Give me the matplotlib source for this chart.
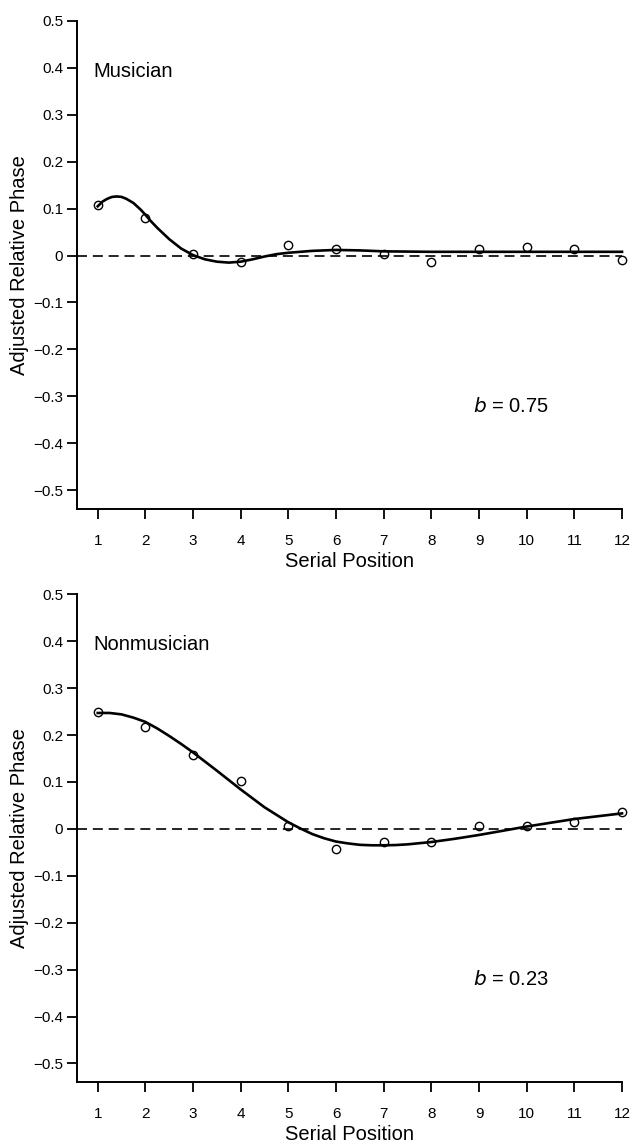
import matplotlib
matplotlib.use("Agg")
import matplotlib.pyplot as plt

# Serial positions and observed (adjusted relative phase) values
positions = [1, 2, 3, 4, 5, 6, 7, 8, 9, 10, 11, 12]
musician = [0.108, 0.080, 0.004, -0.014, 0.023, 0.013, 0.004, -0.013, 0.013, 0.018, 0.013, -0.009]
nonmusician = [0.250, 0.218, 0.158, 0.103, 0.006, -0.042, -0.029, -0.028, 0.006, 0.007, 0.014, 0.036]

# Fitted curves
fit_x_musician = [1.0, 1.1, 1.2, 1.3, 1.4, 1.5, 1.6, 1.75, 1.9, 2.0, 2.1, 2.25, 2.5, 2.75, 3.0,
                  3.25, 3.5, 3.75, 4.0, 4.25, 4.5, 4.75, 5.0, 5.5, 6.0, 6.5, 7.0, 8.0, 9.0,
                  10.0, 11.0, 12.0]
fit_musician = [0.105, 0.115, 0.121, 0.125, 0.126, 0.125, 0.121, 0.112, 0.098, 0.087, 0.075,
                0.059, 0.035, 0.015, 0.001, -0.008, -0.013, -0.015, -0.013, -0.008, -0.002,
                0.003, 0.006, 0.010, 0.012, 0.011, 0.009, 0.008, 0.008, 0.008, 0.008, 0.008]
fit_x_nonmusician = [1.0, 1.25, 1.5, 1.75, 2.0, 2.25, 2.5, 2.75, 3.0, 3.5, 4.0, 4.5, 5.0, 5.25,
                     5.5, 5.75, 6.0, 6.25, 6.5, 6.75, 7.0, 7.25, 7.5, 8.0, 8.5, 9.0, 9.5, 10.0,
                     10.5, 11.0, 11.5, 12.0]
fit_nonmusician = [0.247, 0.247, 0.244, 0.237, 0.228, 0.214, 0.198, 0.181, 0.163, 0.124, 0.084,
                   0.046, 0.014, 0.001, -0.011, -0.020, -0.027, -0.031, -0.034, -0.035, -0.035,
                   -0.0345, -0.033, -0.028, -0.021, -0.013, -0.004, 0.005, 0.013, 0.021, 0.027,
                   0.033]

y_ticks = [0.5, 0.4, 0.3, 0.2, 0.1, 0, -0.1, -0.2, -0.3, -0.4, -0.5]
y_tick_labels = ["0.5", "0.4", "0.3", "0.2", "0.1", "0",
                 "\u22120.1", "\u22120.2", "\u22120.3", "\u22120.4", "\u22120.5"]

plt.rcParams['font.family'] = ['Liberation Sans', 'DejaVu Sans']


def draw_panel(ax, points, fit_x, fit_y, group, b_value):
    ax.axhline(0, color='black', lw=1.2, dashes=(6, 3.5), zorder=1)
    ax.plot(fit_x, fit_y, color='black', lw=1.9, zorder=2, clip_on=False)
    ax.plot(positions, points, linestyle='none', marker='o', ms=6, mfc='none',
            mec='black', mew=1.0, zorder=3, clip_on=False)

    ax.set_xlim(0.565, 12.0)
    ax.set_ylim(-0.54, 0.5)
    ax.set_xticks(positions)
    ax.set_yticks(y_ticks)
    ax.set_yticklabels(y_tick_labels)
    ax.spines['top'].set_visible(False)
    ax.spines['right'].set_visible(False)
    for s in ('left', 'bottom'):
        ax.spines[s].set_linewidth(1.4)
    ax.tick_params(axis='both', direction='out', length=7, width=1.3, labelsize=11)
    ax.tick_params(axis='x', pad=11)
    ax.tick_params(axis='y', pad=3)

    ax.set_xlabel('Serial Position', fontsize=14.5, labelpad=3)
    ax.set_ylabel('Adjusted Relative Phase', fontsize=14.5, labelpad=3)

    ax.text(0.9, 0.393, group, fontsize=14.5, va='center', ha='left')
    ax.text(8.88, -0.333, '$\\it{b}$ = ' + b_value, fontsize=14.5, va='baseline', ha='left')


fig = plt.figure(figsize=(6.32, 11.45), dpi=100)
ax_top = fig.add_axes([0.1218, 0.5555, 0.8624, 0.4262])
ax_bot = fig.add_axes([0.1218, 0.0548, 0.8624, 0.4262])

draw_panel(ax_top, musician, fit_x_musician, fit_musician, 'Musician', '0.75')
draw_panel(ax_bot, nonmusician, fit_x_nonmusician, fit_nonmusician, 'Nonmusician', '0.23')

fig.savefig('out.png', dpi=100)
